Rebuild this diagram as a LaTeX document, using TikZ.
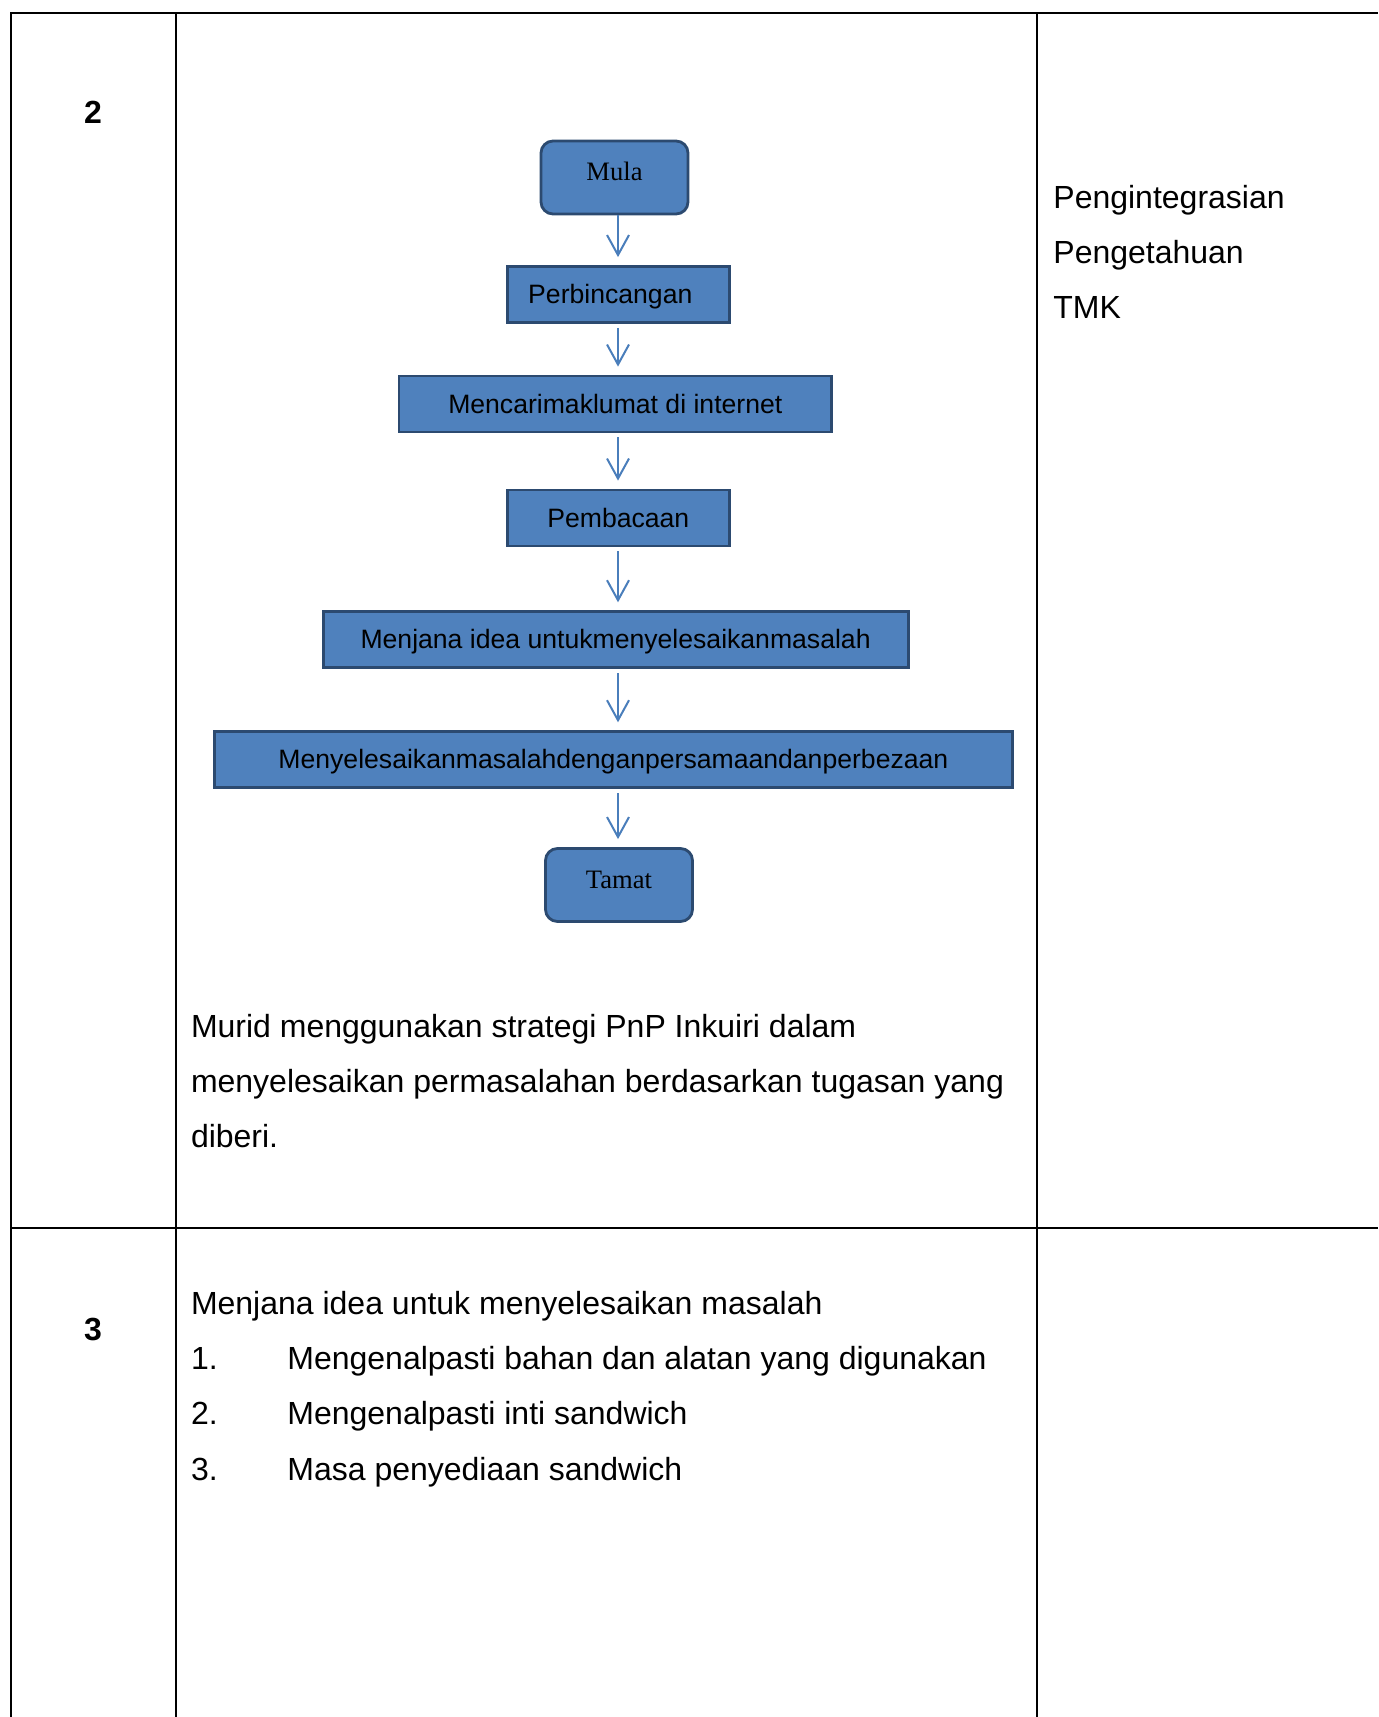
\documentclass[tikz,border=0pt]{standalone}
\usepackage{fontspec}
\setmainfont{Liberation Sans}
\newfontfamily\timesfont{Liberation Serif}
\usetikzlibrary{arrows.meta}
\definecolor{boxfill}{HTML}{4F81BD}
\definecolor{boxedge}{HTML}{2C4A70}
\definecolor{flowline}{HTML}{4A7EBB}
\begin{document}
\begin{tikzpicture}[x=0.5pt,y=-0.5pt,
  grid/.style={line width=1.1pt, black},
  cell/.style={anchor=base west, inner sep=0pt, font=\fontsize{16pt}{19pt}\selectfont},
  rownum/.style={anchor=base, inner sep=0pt, font=\fontsize{16pt}{19pt}\selectfont\bfseries},
  stepbox/.style={draw=boxedge, fill=boxfill, line width=1.4pt, minimum height=28pt,
    inner sep=0pt, text height=11pt, text depth=2pt, font=\fontsize{13.3pt}{16pt}\selectfont},
  termbox/.style={stepbox, rounded corners=6pt, minimum width=73.5pt, minimum height=36.5pt,
    text height=9pt, text depth=6pt, font=\fontsize{13.3pt}{16pt}\selectfont\timesfont},
  flow/.style={draw=flowline, line width=1pt, -{Straight Barb[length=10pt,width=11pt]},
    shorten >=4pt, shorten <=2pt}
]
\useasboundingbox (0,0) rectangle (1378,1717);
\fill[white] (0,0) rectangle (1378,1717);

% table rules
\draw[grid] (11,1717) -- (11,13) -- (1378,13);
\draw[grid] (176,13) -- (176,1717);
\draw[grid] (1037,13) -- (1037,1717);
\draw[grid] (11,1228) -- (1378,1228);

% row numbers
\node[rownum] (n2) at (93,124) {2};
\node[rownum] (n3) at (93,1340) {3};

% flowchart
\coordinate (axis) at (618,0);
\node[termbox] (mula) at (614.5,177.5) {Mula};
\node[stepbox, minimum width=111.2pt] (perb) at (618.3,294.5) {Perbincangan\hspace*{8pt}};
\node[stepbox, minimum width=216.3pt] (cari) at (615.3,404) {Mencarimaklumat di internet};
\node[stepbox, minimum width=111.2pt] (baca) at (618.3,518) {Pembacaan};
\node[stepbox, minimum width=292.5pt] (idea) at (615.6,639.7) {Menjana idea untukmenyelesaikanmasalah};
\node[stepbox, minimum width=398.7pt] (selesai) at (613.4,759.7) {Menyelesaikanmasalahdenganpersamaandanperbezaan};
\node[termbox] (tamat) at (619,885) {Tamat};

\draw[flow, shorten <=0pt] (mula.south -| axis) -- (perb.north -| axis);
\draw[flow] (perb.south -| axis) -- (cari.north -| axis);
\draw[flow] (cari.south -| axis) -- (baca.north -| axis);
\draw[flow] (baca.south -| axis) -- (idea.north -| axis);
\draw[flow] (idea.south -| axis) -- (selesai.north -| axis);
\draw[flow] (selesai.south -| axis) -- (tamat.north -| axis);

% description under the flowchart
\node[cell] (d1) at (190.6,1037) {Murid menggunakan strategi PnP Inkuiri dalam};
\node[cell] (d2) at (190.6,1092) {menyelesaikan permasalahan berdasarkan tugasan yang};
\node[cell] (d3) at (190.6,1147) {diberi.};

% right column
\node[cell] (r1) at (1053,209) {Pengintegrasian};
\node[cell] (r2) at (1053,264) {Pengetahuan};
\node[cell] (r3) at (1053,319) {TMK};

% row 3
\node[cell] (h3) at (190.6,1314) {Menjana idea untuk menyelesaikan masalah};
\node[cell] (i1) at (190.6,1369) {1.};
\node[cell] (t1) at (287,1369) {Mengenalpasti bahan dan alatan yang digunakan};
\node[cell] (i2) at (190.6,1424) {2.};
\node[cell] (t2) at (287,1424) {Mengenalpasti inti sandwich};
\node[cell] (i3) at (190.6,1480) {3.};
\node[cell] (t3) at (287,1480) {Masa penyediaan sandwich};
\end{tikzpicture}
\end{document}
